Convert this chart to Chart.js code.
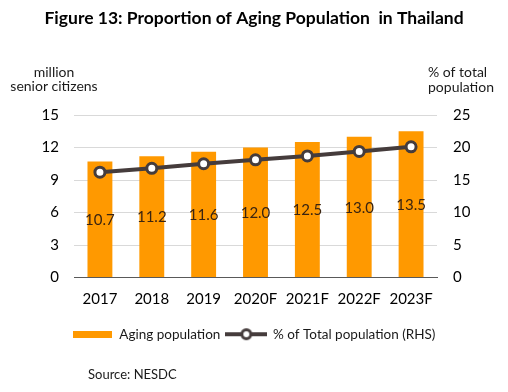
<!DOCTYPE html>
<html>
<head>
<meta charset="utf-8">
<script src="https://cdn.jsdelivr.net/npm/chart.js@4.4.0/dist/chart.umd.min.js"></script>
<style>
  html, body { margin: 0; padding: 0; background: #fff; }
  #wrap { width: 508px; height: 392px; }
</style>
</head>
<body>
<div id="wrap"><canvas id="grafico"></canvas></div>
<script>
// data
const years = ['2017', '2018', '2019', '2020F', '2021F', '2022F', '2023F'];
const agingPopulation = [10.7, 11.2, 11.6, 12.0, 12.5, 13.0, 13.5];
const shareOfTotal = [16.2, 16.8, 17.5, 18.1, 18.7, 19.4, 20.1];
const leftTicks = [0, 3, 6, 9, 12, 15];
const rightTicks = [0, 5, 10, 15, 20, 25];

const FONT = 'Lato, "Open Sans", sans-serif';
const ORANGE = '#FF9900';
const LINE = '#453c3c';

// legend markers
function barMarker() {
  const c = document.createElement('canvas');
  c.width = 39; c.height = 7;
  const ctx = c.getContext('2d');
  ctx.fillStyle = ORANGE;
  ctx.fillRect(0, 0, 39, 7);
  return c;
}
function lineMarker() {
  const c = document.createElement('canvas');
  c.width = 42; c.height = 14;
  const ctx = c.getContext('2d');
  ctx.strokeStyle = LINE;
  ctx.lineWidth = 4;
  ctx.beginPath();
  ctx.moveTo(0, 7); ctx.lineTo(42, 7);
  ctx.stroke();
  ctx.beginPath();
  ctx.arc(21, 7, 4.5, 0, Math.PI * 2);
  ctx.fillStyle = '#fff';
  ctx.fill();
  ctx.lineWidth = 3;
  ctx.stroke();
  return c;
}

// value labels in the bars, unit labels above the axes, source line
const extraText = {
  id: 'extraText',
  afterDatasetsDraw(chart) {
    const ctx = chart.ctx;
    ctx.save();
    ctx.font = '15px ' + FONT;
    ctx.fillStyle = '#3a2410';
    ctx.textAlign = 'center';
    ctx.textBaseline = 'middle';
    chart.getDatasetMeta(0).data.forEach((bar, i) => {
      ctx.fillText(agingPopulation[i].toFixed(1), bar.x, (bar.y + bar.base) / 2 + 1);
    });
    ctx.restore();
  },
  afterDraw(chart) {
    const ctx = chart.ctx;
    ctx.save();
    ctx.font = '14px ' + FONT;
    ctx.fillStyle = '#1a1a1a';
    ctx.textBaseline = 'middle';
    ctx.textAlign = 'center';
    ctx.fillText('million', 54, 72);
    ctx.fillText('senior citizens', 54, 86);
    ctx.textAlign = 'left';
    ctx.fillText('% of total', 428, 72);
    ctx.fillText('population', 428, 87);
    ctx.font = '13px ' + FONT;
    ctx.fillText('Source: NESDC', 88, 375);
    ctx.restore();
  }
};

const graficoMixto = new Chart(document.querySelector('#grafico'), {
  type: 'bar',
  data: {
    labels: years,
    datasets: [
      {
        type: 'bar',
        label: 'Aging population',
        data: agingPopulation,
        backgroundColor: ORANGE,
        barPercentage: 0.48,
        categoryPercentage: 1,
        yAxisID: 'y',
        order: 1
      },
      {
        type: 'line',
        label: '% of Total population (RHS)',
        data: shareOfTotal,
        borderColor: LINE,
        borderWidth: 4,
        pointRadius: 5,
        pointBorderWidth: 3,
        pointBackgroundColor: '#fff',
        pointBorderColor: LINE,
        yAxisID: 'y1',
        order: 0
      }
    ]
  },
  options: {
    responsive: true,
    maintainAspectRatio: false,
    animation: false,
    layout: { padding: { top: 4, bottom: 41, left: 0, right: 0 } },
    plugins: {
      tooltip: { enabled: false },
      title: {
        display: true,
        text: 'Figure 13: Proportion of Aging Population  in Thailand',
        color: '#000',
        font: { family: FONT, size: 17.5, weight: 'bold' },
        padding: { top: 4, bottom: 86 }
      },
      legend: {
        position: 'bottom',
        labels: {
          usePointStyle: true,
          pointStyleWidth: 40,
          color: '#1a1a1a',
          font: { family: FONT, size: 13.5 },
          padding: 6,
          generateLabels() {
            return [
              { text: 'Aging population', pointStyle: barMarker(), datasetIndex: 0, lineWidth: 0, fontColor: '#1a1a1a' },
              { text: '% of Total population (RHS)', pointStyle: lineMarker(), datasetIndex: 1, lineWidth: 0, fontColor: '#1a1a1a' }
            ];
          }
        }
      }
    },
    scales: {
      x: {
        grid: { display: false, drawTicks: false },
        border: { color: '#595959', width: 1 },
        ticks: { color: '#000', font: { family: FONT, size: 15 }, padding: 13 }
      },
      y: {
        position: 'left',
        min: 0,
        max: leftTicks[leftTicks.length - 1],
        afterBuildTicks(scale) { scale.ticks = leftTicks.map(v => ({ value: v })); },
        afterFit(scale) { scale.width = 74; },
        grid: { color: '#d9d9d9', drawTicks: false },
        border: { display: false },
        ticks: { color: '#000', font: { family: FONT, size: 15 }, padding: 15 }
      },
      y1: {
        position: 'right',
        min: 0,
        max: rightTicks[rightTicks.length - 1],
        afterBuildTicks(scale) { scale.ticks = rightTicks.map(v => ({ value: v })); },
        afterFit(scale) { scale.width = 71; },
        grid: { display: false, drawTicks: false },
        border: { display: false },
        ticks: { color: '#000', font: { family: FONT, size: 15 }, padding: 16 }
      }
    }
  },
  plugins: [extraText]
});
</script>
</body>
</html>
